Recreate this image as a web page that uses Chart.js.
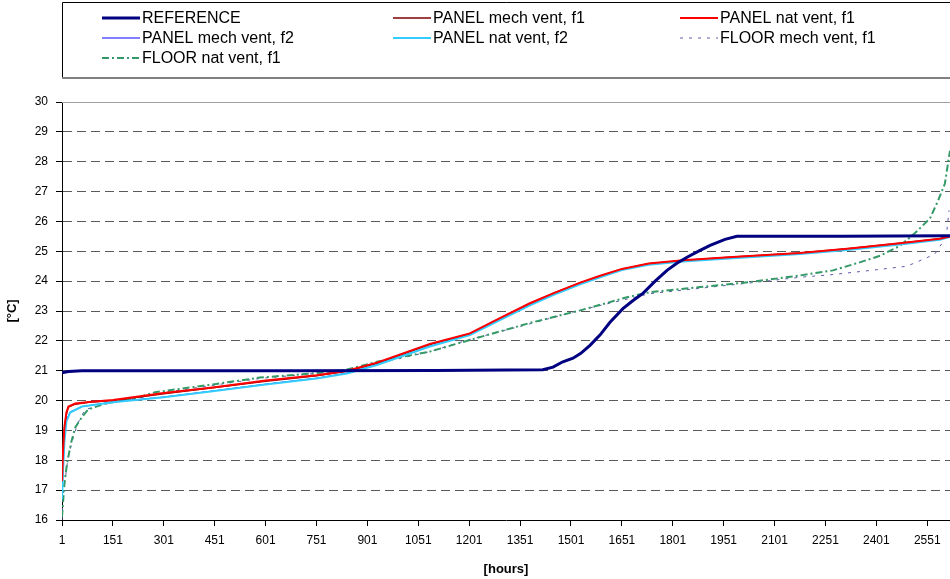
<!DOCTYPE html>
<html>
<head>
<meta charset="utf-8">
<script src="https://cdn.jsdelivr.net/npm/chart.js@4/dist/chart.umd.min.js"></script>
<style>
  html, body { margin: 0; padding: 0; background: #fff; }
  canvas { display: block; }
</style>
</head>
<body>
<canvas id="chart" width="950" height="579"></canvas>
<script>
// x tick labels (hours) and y range
const X_TICKS = [1, 151, 301, 451, 601, 751, 901, 1051, 1201, 1351, 1501, 1651, 1801, 1951, 2101, 2251, 2401, 2551];
const X_MAX = 2618;

// REFERENCE
const REF_H = [1, 20, 60, 300, 700, 1100, 1418, 1448, 1477, 1507, 1530, 1557, 1587, 1616, 1654, 1684, 1713, 1749, 1784, 1813, 1843, 1880, 1911, 1955, 1990, 2300, 2618];
const REF_T = [20.93, 20.97, 21.0, 21.0, 21.0, 21.01, 21.03, 21.12, 21.3, 21.42, 21.58, 21.85, 22.2, 22.62, 23.08, 23.35, 23.59, 24.0, 24.36, 24.6, 24.8, 25.02, 25.2, 25.4, 25.5, 25.5, 25.52];

// PANEL, f1 (mech + nat)
const PF1_H = [1, 4, 8, 14, 20, 40, 80, 151, 301, 451, 601, 751, 841, 929, 1085, 1203, 1290, 1380, 1450, 1528, 1587, 1651, 1730, 1831, 1978, 2176, 2323, 2470, 2588, 2618];
const PANEL_MECH_F1 = [17.0, 18.1, 19.0, 19.55, 19.78, 19.88, 19.94, 20.0, 20.23, 20.44, 20.65, 20.83, 20.98, 21.25, 21.88, 22.24, 22.74, 23.25, 23.6, 23.94, 24.17, 24.4, 24.58, 24.69, 24.81, 24.94, 25.09, 25.27, 25.42, 25.5];
const PANEL_NAT_F1 = [17.3, 18.3, 19.1, 19.6, 19.8, 19.9, 19.95, 20.02, 20.25, 20.45, 20.67, 20.85, 21.0, 21.27, 21.9, 22.25, 22.75, 23.26, 23.6, 23.95, 24.18, 24.41, 24.59, 24.7, 24.81, 24.94, 25.09, 25.27, 25.42, 25.5];

// PANEL, f2 (mech + nat)
const PF2_H = [1, 4, 8, 14, 25, 60, 151, 301, 451, 601, 751, 841, 929, 1085, 1203, 1290, 1380, 1450, 1528, 1587, 1651, 1730, 1831, 1978, 2176, 2323, 2470, 2588, 2608, 2618];
const PANEL_MECH_F2 = [16.9, 17.7, 18.7, 19.35, 19.62, 19.8, 19.95, 20.12, 20.33, 20.55, 20.75, 20.92, 21.2, 21.82, 22.2, 22.7, 23.2, 23.55, 23.9, 24.14, 24.38, 24.56, 24.67, 24.78, 24.92, 25.06, 25.24, 25.4, 25.46, 25.5];
const PANEL_NAT_F2 = [16.7, 17.6, 18.6, 19.3, 19.6, 19.8, 19.94, 20.11, 20.32, 20.54, 20.74, 20.91, 21.19, 21.81, 22.19, 22.69, 23.19, 23.54, 23.89, 24.13, 24.37, 24.55, 24.66, 24.77, 24.91, 25.05, 25.23, 25.39, 25.45, 25.48];

// FLOOR mech vent, f1
const FM_H = [1, 5, 19, 35, 48, 69, 128, 216, 301, 584, 841, 1085, 1203, 1380, 1519, 1733, 1881, 2028, 2176, 2273, 2400, 2491, 2553, 2574, 2594, 2609, 2615];
const FLOOR_MECH_F1 = [16.0, 16.9, 18.1, 18.8, 19.25, 19.7, 19.88, 20.05, 20.27, 20.74, 21.0, 21.64, 22.05, 22.57, 23.0, 23.58, 23.76, 23.94, 24.13, 24.22, 24.38, 24.5, 24.8, 24.92, 25.26, 25.7, 26.37];

// FLOOR nat vent, f1
const FN_H = [1, 8, 16, 28, 40, 60, 78, 128, 216, 275, 451, 584, 732, 841, 929, 1085, 1203, 1380, 1528, 1666, 1733, 1881, 2028, 2176, 2273, 2352, 2412, 2470, 2514, 2559, 2583, 2603, 2612, 2618];
const FLOOR_NAT_F1 = [16.1, 17.2, 17.9, 18.6, 19.1, 19.45, 19.7, 19.9, 20.07, 20.28, 20.55, 20.77, 20.9, 21.04, 21.3, 21.64, 22.03, 22.6, 23.02, 23.46, 23.63, 23.8, 23.97, 24.19, 24.36, 24.63, 24.85, 25.18, 25.6, 26.1, 26.7, 27.27, 27.94, 28.37];

const FONT = "'Liberation Sans', Arial, sans-serif";

function pts(hs, ts) {
  return hs.map((h, i) => ({ x: h, y: ts[i] }));
}

function line(label, hs, ts, color, width, dash, order) {
  return {
    label, data: pts(hs, ts), borderColor: color, backgroundColor: color,
    borderWidth: width, borderDash: dash, pointRadius: 0, tension: 0, fill: false, order,
  };
}

// legend box in three columns + grey plot-area top edge
const boxLegend = {
  id: 'boxLegend',
  beforeDatasetsDraw(chart) {
    const { ctx, chartArea: a } = chart;
    ctx.save();
    ctx.strokeStyle = '#a0a0a0';
    ctx.lineWidth = 1;
    ctx.beginPath();
    ctx.moveTo(a.left, a.top + 0.5);
    ctx.lineTo(a.right, a.top + 0.5);
    ctx.stroke();
    ctx.restore();
  },
  afterDraw(chart) {
    const { ctx, chartArea: a } = chart;
    ctx.save();
    ctx.strokeStyle = '#000';
    ctx.lineWidth = 1;
    ctx.beginPath();
    ctx.moveTo(a.left + 0.5, 78);
    ctx.lineTo(a.left + 0.5, 2.5);
    ctx.lineTo(chart.width, 2.5);
    ctx.stroke();
    ctx.strokeStyle = '#808080';
    ctx.lineWidth = 2;
    ctx.beginPath();
    ctx.moveTo(a.left, 78);
    ctx.lineTo(chart.width, 78);
    ctx.stroke();

    const cols = [102, 393, 680];
    const rows = [18, 38, 58];
    ctx.font = '16px ' + FONT;
    ctx.textBaseline = 'middle';
    chart.data.datasets.forEach((ds, i) => {
      const x = cols[i % 3], y = rows[Math.floor(i / 3)];
      ctx.beginPath();
      ctx.setLineDash(ds.borderDash || []);
      ctx.strokeStyle = ds.borderColor;
      ctx.lineWidth = ds.borderWidth;
      ctx.moveTo(x, y);
      ctx.lineTo(x + 38, y);
      ctx.stroke();
      ctx.setLineDash([]);
      ctx.fillStyle = '#000';
      ctx.fillText(ds.label, x + 40, y + 1);
    });
    ctx.restore();
  }
};

new Chart(document.getElementById('chart'), {
  type: 'line',
  data: {
    datasets: [
      line('REFERENCE', REF_H, REF_T, '#000080', 3, [], 0),
      line('PANEL mech vent, f1', PF1_H, PANEL_MECH_F1, '#800000', 1.5, [], 3),
      line('PANEL nat vent, f1', PF1_H, PANEL_NAT_F1, '#ff0000', 2, [], 1),
      line('PANEL mech vent, f2', PF2_H, PANEL_MECH_F2, '#0000ff', 1, [], 4),
      line('PANEL nat vent, f2', PF2_H, PANEL_NAT_F2, '#33ccff', 2, [], 2),
      line('FLOOR mech vent, f1', FM_H, FLOOR_MECH_F1, '#5a5aaa', 1, [3, 6], 6),
      line('FLOOR nat vent, f1', FN_H, FLOOR_NAT_F1, '#339966', 2, [7, 3, 2, 3], 5),
    ],
  },
  options: {
    responsive: false,
    animation: false,
    layout: { padding: { top: 102, right: 0, left: 0, bottom: 0 } },
    plugins: { legend: { display: false }, tooltip: { enabled: false } },
    scales: {
      x: {
        type: 'linear', min: 1, max: X_MAX,
        afterBuildTicks: s => { s.ticks = X_TICKS.map(v => ({ value: v })); },
        afterFit: s => { s.height = 59; },
        grid: { drawOnChartArea: false, tickLength: 6, color: '#000', tickColor: '#000' },
        border: { color: '#000', width: 1 },
        ticks: { color: '#000', font: { family: FONT, size: 12 }, padding: 7, maxRotation: 0, autoSkip: false, callback: v => String(v) },
        title: { display: true, text: '[hours]', color: '#000', font: { family: FONT, size: 13, weight: 'bold' }, padding: { top: 3, bottom: 2 } },
      },
      y: {
        min: 16, max: 30,
        afterFit: s => { s.width = 62; },
        grid: {
          color: c => (c.tick && (c.tick.value === 30 || c.tick.value === 16)) ? 'rgba(0,0,0,0)' : '#5a5a5a',
          lineWidth: 1, tickLength: 6, tickColor: '#000', tickBorderDash: [],
        },
        border: { color: '#000', width: 1, dash: [9, 5] },
        ticks: { stepSize: 1, color: '#000', font: { family: FONT, size: 12 }, padding: 8, callback: v => String(v) },
        title: { display: true, text: '[°C]', color: '#000', font: { family: FONT, size: 13, weight: 'bold' }, padding: { top: 5, bottom: 0 } },
      },
    },
  },
  plugins: [boxLegend],
});
</script>
</body>
</html>
